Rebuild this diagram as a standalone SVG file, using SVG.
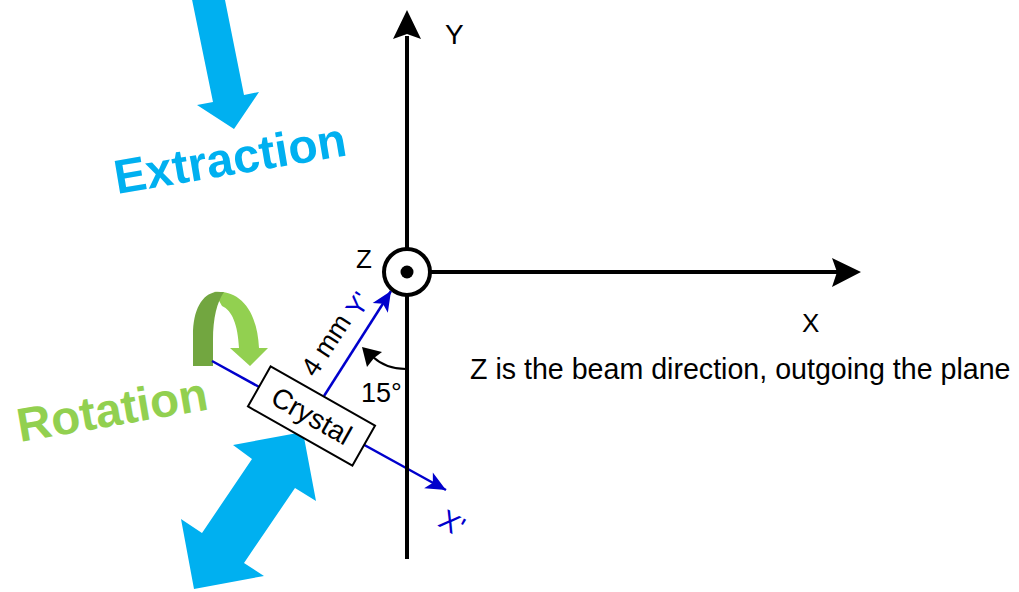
<svg xmlns="http://www.w3.org/2000/svg" width="1019" height="592" viewBox="0 0 1019 592">
<style>
.t{font-family:"Liberation Sans",Arial,sans-serif;fill:#000}
.b{font-family:"Liberation Sans",Arial,sans-serif;font-weight:bold}
.blue{fill:#0000CC}
.cyan{fill:#00B0F0}
</style>
<defs>
<marker id="ba" markerUnits="userSpaceOnUse" viewBox="-22 -10 24 20" markerWidth="24" markerHeight="20" refX="0" refY="0" orient="auto">
<path d="M0,0 L-20,-9 L-15,0 L-20,9 Z" fill="#0000CC"/>
</marker>
</defs>
<rect width="1019" height="592" fill="#fff"/>
<g id="extraction-arrow">
<path class="cyan" d="M188,-20 L213,102 L197,105 L234,129 L259,92 L244,95 L221,-20 Z"/>
</g>
<g id="extraction-label">
<text class="b cyan" x="117" y="194" font-size="48" transform="rotate(-9.5 117 194)">Extraction</text>
</g>
<g id="rotation-arrow">
<path fill="#92D050" d="M214,292 C240,290 257,310 259,348 L268,348 L250,366 L230,348 L239,348 C238,325 232,310 222,306 Z"/>
<path fill="#72A640" d="M193,366 L193,335 C193,310 202,294 216,292 L224,292 C217,302 213,318 213,340 L213,366 Z"/>
</g>
<g id="rotation-label">
<text class="b" fill="#92D050" x="20" y="442" font-size="47.5" transform="rotate(-9.8 20 442)">Rotation</text>
</g>
<g id="translation-arrow">
<path class="cyan" d="M303,432 L316,501 L295,488 L244,563 L264,576 L194,589 L181,519 L202,533 L252,459 L233,445 Z"/>
</g>
<g id="connectors">
<line x1="212" y1="361" x2="446" y2="490" stroke="#0000CC" stroke-width="2.5" marker-end="url(#ba)"/>
<line x1="324" y1="396" x2="391" y2="291" stroke="#0000CC" stroke-width="2.5" marker-end="url(#ba)"/>
<line x1="407" y1="36" x2="407" y2="559" stroke="#000" stroke-width="4"/>
<path d="M407,10 L393,39 L407,34 L421,39 Z" fill="#000"/>
<line x1="430" y1="272" x2="838" y2="272" stroke="#000" stroke-width="4"/>
<path d="M861,272 L832,258 L837,272 L832,287 Z" fill="#000"/>
<path d="M406,369 Q386,369 373,357" fill="none" stroke="#000" stroke-width="2"/>
<path d="M362,347 L382,352 L374,358 L367,367 Z" fill="#000"/>
</g>
<g id="z-axis">
<circle cx="407" cy="272" r="23" fill="#fff" stroke="#000" stroke-width="4"/>
<circle cx="407" cy="272" r="6.5" fill="#000"/>
</g>
<g id="crystal">
<rect x="251.5" y="393" width="120" height="46" fill="#fff" stroke="#000" stroke-width="2" transform="rotate(29.5 311.5 416)"/>
<text class="t" x="311.5" y="416" font-size="28" text-anchor="middle" dominant-baseline="central" transform="rotate(29.5 311.5 416)">Crystal</text>
</g>
<g id="labels">
<text class="t" x="445" y="44" font-size="28">Y</text>
<text class="t" x="802" y="332" font-size="26">X</text>
<text class="t" x="356" y="268" font-size="26">Z</text>
<text class="t" x="470" y="379" font-size="28.6">Z is the beam direction, outgoing the plane</text>
<text class="t" x="361" y="402" font-size="27">15°</text>
<text class="t" x="326" y="345" font-size="27" text-anchor="middle" dominant-baseline="central" transform="rotate(-57 326 345)">4 mm</text>
<text class="t blue" x="358" y="304" font-size="26" text-anchor="middle" dominant-baseline="central" transform="rotate(-57 358 304)">Y'</text>
<text class="t blue" x="452" y="523" font-size="28" text-anchor="middle" dominant-baseline="central" transform="rotate(30 452 523)">X'</text>
</g>
</svg>
